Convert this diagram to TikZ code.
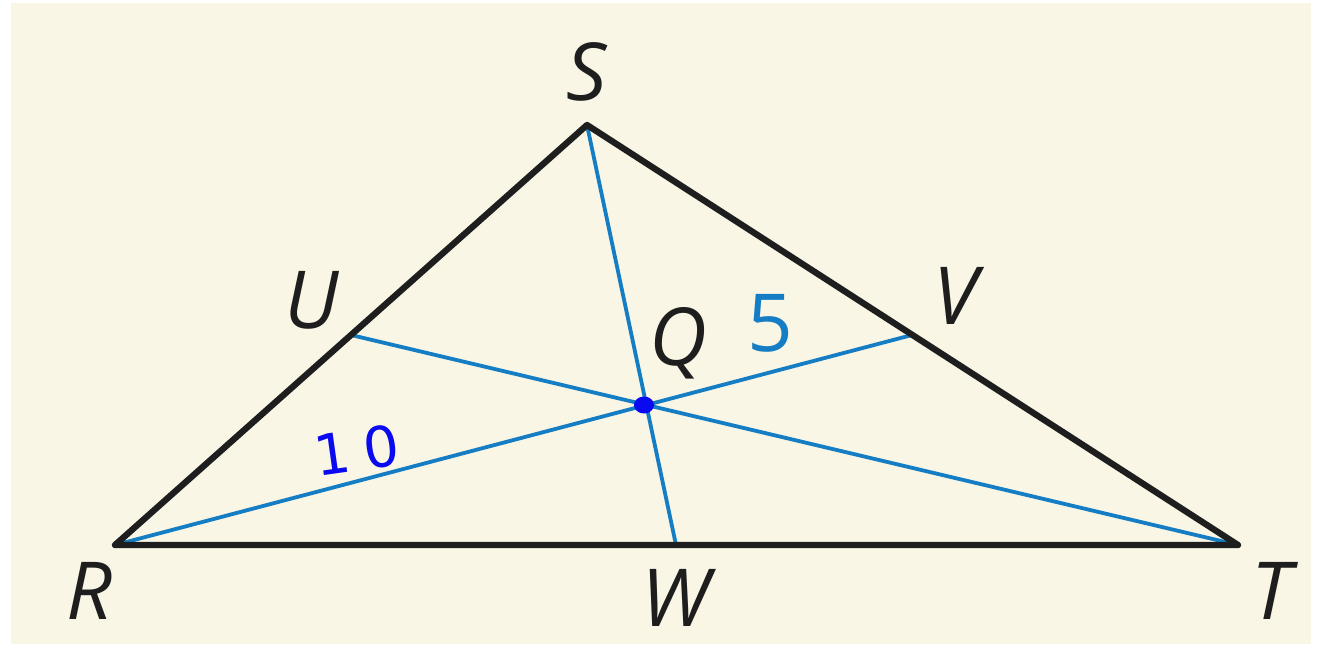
\documentclass[tikz,border=0pt]{standalone}
\usepackage{fontspec}
\setmainfont{Open Sans}
\newfontfamily\handfont{DejaVu Sans}
\definecolor{bgcream}{RGB}{249,246,229}
\definecolor{medblue}{RGB}{20,125,195}
\definecolor{inkblue}{RGB}{10,10,240}
\definecolor{edgeblack}{RGB}{30,30,30}
\begin{document}
\begin{tikzpicture}[x=1pt,y=-1pt,
  edge/.style={draw=edgeblack,line width=6.3pt,line join=round,line cap=round},
  median/.style={draw=medblue,line width=3.8pt},
  vlabel/.style={font=\fontsize{80}{80}\selectfont\itshape,text=edgeblack,inner sep=0pt,anchor=center},
  numlabel/.style={font=\fontsize{80}{80}\selectfont,text=medblue,inner sep=0pt,anchor=center}]
\useasboundingbox (0,0) rectangle (1325,646);
\fill[white] (0,0) rectangle (1325,646);
\fill[bgcream] (11,3) rectangle (1311,644);
\coordinate (S) at (587,125);
\coordinate (R) at (115,545);
\coordinate (T) at (1238,545);
\coordinate (U) at (351,335);
\coordinate (V) at (912,335);
\coordinate (W) at (676,545);
\coordinate (Q) at (644,405);
\draw[median] (S) -- (W);
\draw[median] (R) -- (V);
\draw[median] (T) -- (U);
\draw[edge] (R) -- (S) -- (T) -- cycle;
\fill[inkblue] (Q) ellipse (10pt and 8.5pt);
\node[vlabel] (lS) at (587,72) {S};
\node[vlabel] (lU) at (312,300) {U};
\node[vlabel] (lV) at (955,296) {V};
\node[vlabel] (lQ) at (678,343) {Q};
\node[vlabel] (lR) at (89,591) {R};
\node[vlabel] (lW) at (676,598) {W};
\node[vlabel] (lT) at (1271,591) {T};
\node[numlabel] (l5) at (770,323) {5};
\node[font=\fontsize{56}{56}\handfont,text=inkblue,inner sep=0pt,rotate=8] (l10) at (357,450) {1\hspace{14pt}0};
\end{tikzpicture}
\end{document}
